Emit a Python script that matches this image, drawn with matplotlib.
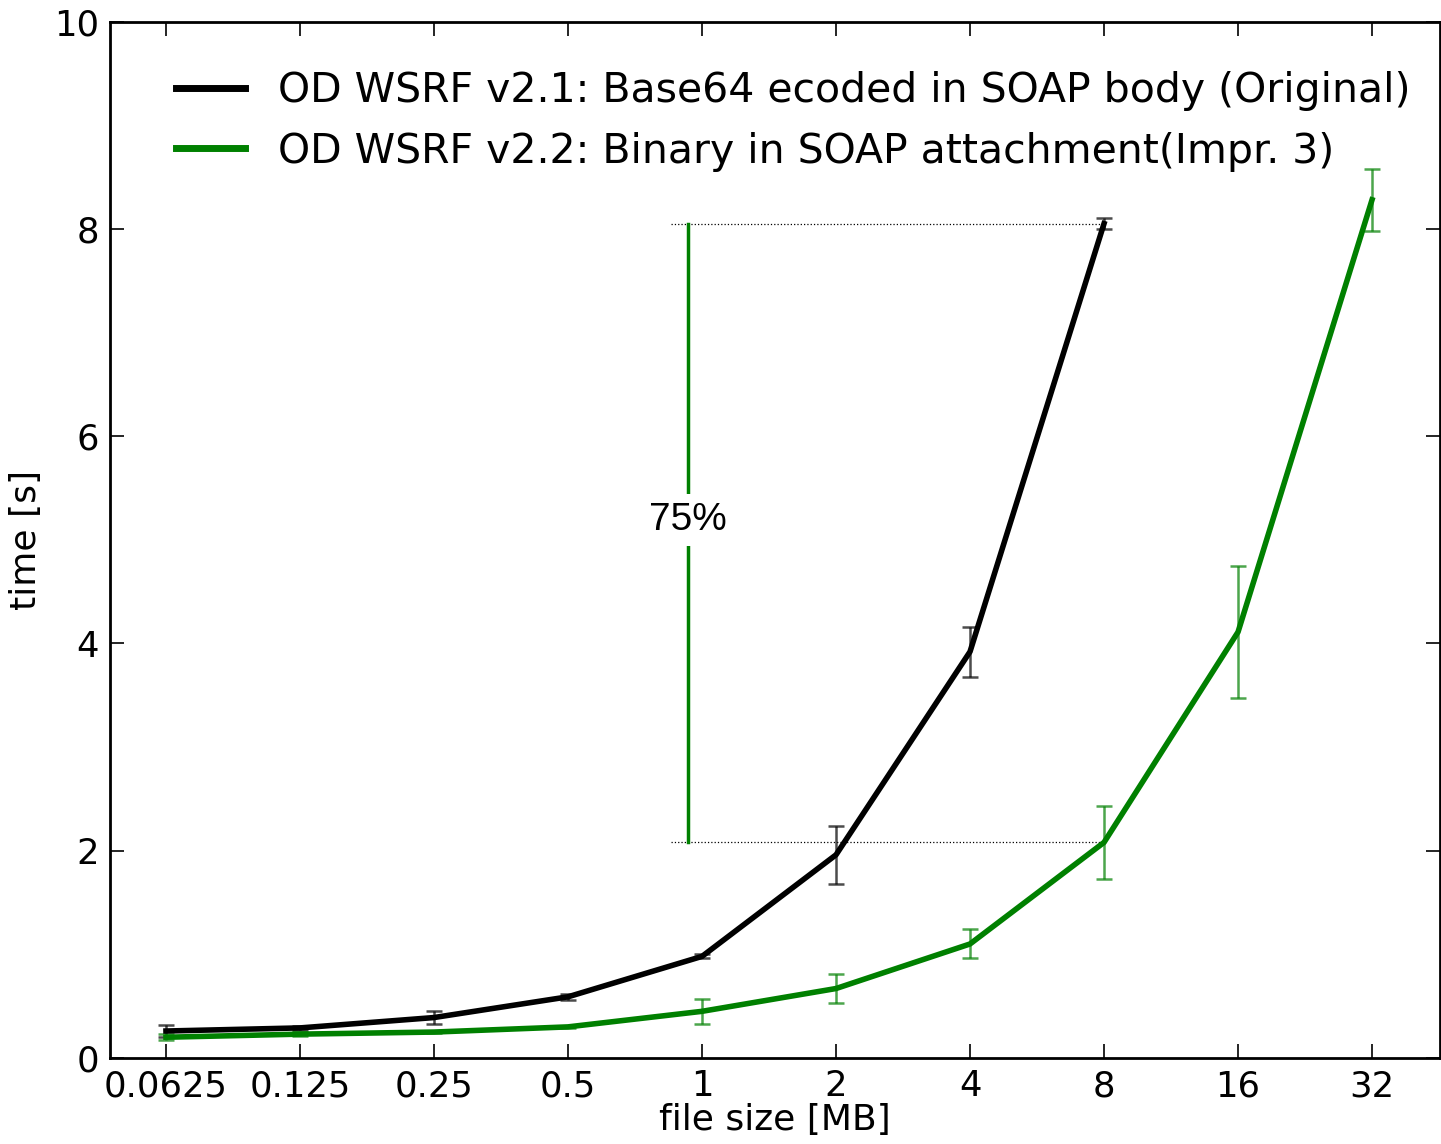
import matplotlib
matplotlib.use("Agg")
from matplotlib import pyplot as plt
from matplotlib.lines import Line2D

# file sizes in MB
sizes_orig = [0.0625, 0.125, 0.25, 0.5, 1, 2, 4, 8]
time_orig = [0.26, 0.29, 0.39, 0.59, 0.98, 1.96, 3.92, 8.05]
err_orig = [0.06, 0.02, 0.06, 0.03, 0.02, 0.28, 0.24, 0.05]

sizes_impr = [0.0625, 0.125, 0.25, 0.5, 1, 2, 4, 8, 16, 32]
time_impr = [0.20, 0.23, 0.25, 0.30, 0.45, 0.67, 1.10, 2.08, 4.11, 8.28]
err_impr = [0.03, 0.02, 0.01, 0.01, 0.12, 0.14, 0.14, 0.35, 0.64, 0.30]

tick_vals = [0.0625, 0.125, 0.25, 0.5, 1, 2, 4, 8, 16, 32]
tick_labels = ['0.0625', '0.125', '0.25', '0.5', '1', '2', '4', '8', '16', '32']

label_orig = 'OD WSRF v2.1: Base64 ecoded in SOAP body (Original)'
label_impr = 'OD WSRF v2.2: Binary in SOAP attachment(Impr. 3)'

# annotation: improvement bar
bar_x = 0.93
dot_x0 = 0.85
pct_text = '75%'

fig = plt.figure(figsize=(14.41, 11.44), dpi=100)
ax = fig.add_axes([0.0763, 0.0752, 0.923, 0.906])

ax.errorbar(sizes_orig, time_orig, yerr=err_orig, color='black', lw=4,
            ecolor=(0, 0, 0, 0.7), elinewidth=1.8, capsize=6, capthick=1.8)
ax.errorbar(sizes_impr, time_impr, yerr=err_impr, color='green', lw=4,
            ecolor=(0, 0.5, 0, 0.7), elinewidth=1.8, capsize=6, capthick=1.8)

# dotted guide lines and the 75% bar
ax.plot([dot_x0, sizes_orig[-1]], [time_orig[-1], time_orig[-1]],
        color='black', lw=0.9, ls=':')
ax.plot([dot_x0, sizes_impr[7]], [time_impr[7], time_impr[7]],
        color='black', lw=0.9, ls=':')
ax.plot([bar_x, bar_x], [time_impr[7], time_orig[-1]], color='green', lw=2.5)
ax.text(bar_x, 5.19, pct_text, ha='center', va='center', fontsize=28,
        family='Liberation Sans',
        bbox=dict(facecolor='white', edgecolor='none', pad=6))

ax.set_xscale('log', base=2)
ax.set_xlim(2 ** -4.418, 2 ** 5.507)
ax.set_ylim(0, 10)
ax.set_xticks(tick_vals)
ax.set_xticklabels(tick_labels)
ax.minorticks_off()
ax.set_yticks([0, 2, 4, 6, 8, 10])

ax.tick_params(direction='in', top=True, right=True, length=10, width=1.2,
               labelsize=25.5, pad=8)
for s in ax.spines.values():
    s.set_linewidth(2)

ax.set_xlabel('file size [MB]', fontsize=26, labelpad=0)
ax.set_ylabel('time [s]', fontsize=26, labelpad=8)

handles = [Line2D([], [], color='black', lw=5), Line2D([], [], color='green', lw=5)]
ax.legend(handles, [label_orig, label_impr], loc='upper left', frameon=False,
          bbox_to_anchor=(0.037, 0.968), borderaxespad=0,
          fontsize=29.5, handlelength=1.7,
          handletextpad=0.8, labelspacing=0.5)

fig.savefig('out.png', dpi=100)
